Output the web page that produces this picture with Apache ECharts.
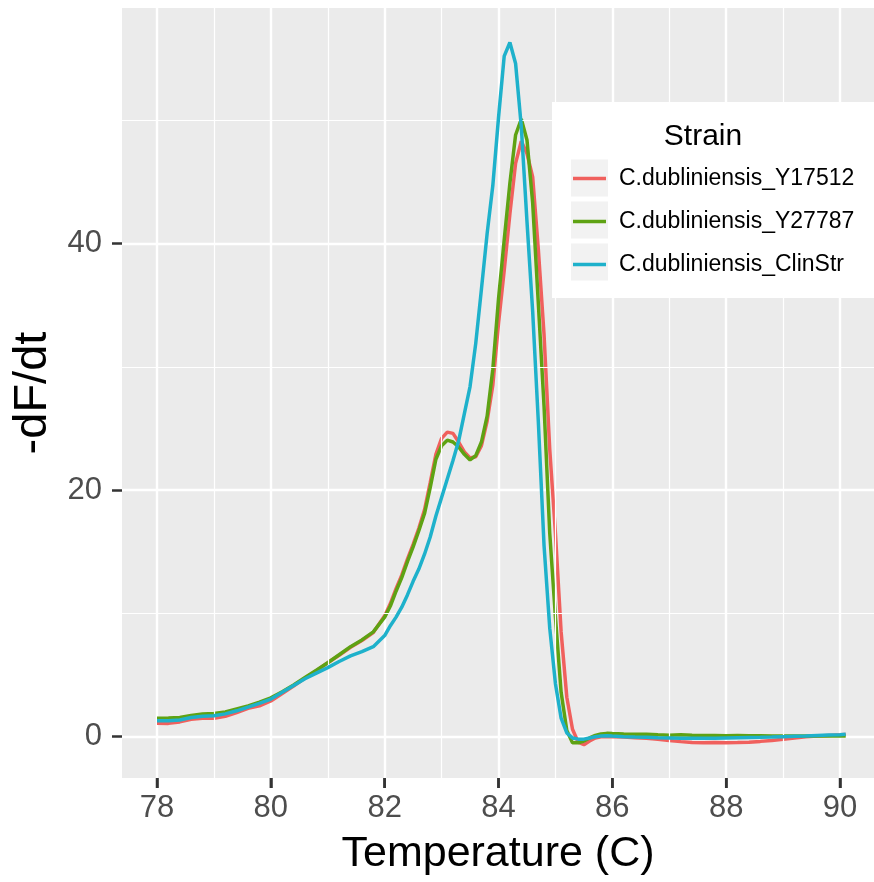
<!DOCTYPE html>
<html>
<head>
<meta charset="utf-8">
<script src="https://cdn.jsdelivr.net/npm/echarts@6/dist/echarts.min.js"></script>
<style>html,body{margin:0;padding:0;background:#fff;}#chart{width:874px;height:882px;}</style>
</head>
<body>
<div id="chart"></div>
<script>
// ---- data ----
const temps = [78.0,78.2,78.4,78.6,78.8,79.0,79.2,79.4,79.6,79.8,80.0,80.2,80.4,80.6,80.8,81.0,81.2,81.4,81.6,81.8,
  82.0,82.1,82.2,82.3,82.4,82.5,82.6,82.7,82.8,82.9,83.0,83.1,83.2,83.3,83.4,83.5,83.6,83.7,83.8,83.9,
  84.0,84.1,84.2,84.3,84.4,84.5,84.6,84.7,84.8,84.9,85.0,85.1,85.2,85.3,85.4,85.5,85.6,85.7,85.8,85.9,86.0,
  86.2,86.4,86.6,86.8,87.0,87.2,87.4,87.6,87.8,88.0,88.2,88.4,88.6,88.8,89.0,89.2,89.4,89.6,89.8,90.0,90.1];

const strains = ['C.dubliniensis_Y17512','C.dubliniensis_Y27787','C.dubliniensis_ClinStr'];

const y17512 = [1.1,1.08,1.2,1.42,1.5,1.5,1.65,1.95,2.3,2.5,2.9,3.5,4.1,4.75,5.35,6.0,6.6,7.25,7.8,8.45,
  9.8,10.8,12.0,13.1,14.4,15.6,16.9,18.4,20.6,22.9,24.2,24.7,24.6,23.9,23.1,22.6,22.7,23.6,25.6,28.5,
  33.5,37.8,42.4,46.5,48.3,47.3,45.4,39.5,32.6,23.3,16.5,8.5,3.2,0.6,-0.45,-0.65,-0.35,-0.1,0.0,0.02,0.0,
  -0.03,-0.08,-0.12,-0.2,-0.3,-0.4,-0.48,-0.5,-0.48,-0.5,-0.48,-0.45,-0.38,-0.3,-0.2,-0.1,0.0,0.05,0.1,0.15,0.18];

const y27787 = [1.5,1.52,1.55,1.72,1.85,1.88,2.0,2.25,2.5,2.8,3.15,3.65,4.2,4.8,5.4,6.0,6.65,7.3,7.85,8.5,
  9.7,10.6,11.8,12.9,14.2,15.4,16.7,18.1,20.2,22.5,23.6,24.05,23.9,23.5,22.9,22.45,22.8,23.9,26.0,29.8,
  35.5,40.3,44.9,48.8,50.1,48.4,43.3,35.1,26.8,16.5,9.7,3.6,0.5,-0.5,-0.5,-0.35,-0.1,0.1,0.22,0.27,0.25,
  0.22,0.2,0.2,0.15,0.12,0.15,0.12,0.1,0.1,0.08,0.1,0.08,0.08,0.05,0.05,0.05,0.05,0.05,0.05,0.05,0.05];

const clinStr = [1.3,1.3,1.35,1.55,1.65,1.7,1.85,2.1,2.4,2.7,3.05,3.6,4.15,4.7,5.15,5.6,6.1,6.55,6.9,7.3,
  8.2,9.0,9.7,10.5,11.5,12.6,13.6,14.8,16.2,17.9,19.4,20.9,22.4,24.0,26.2,28.4,31.9,36.3,40.8,44.7,
  50.2,55.2,56.3,54.6,49.5,41.8,34.5,25.5,15.5,8.8,4.3,1.5,0.3,-0.1,-0.2,-0.2,-0.1,0.0,0.05,0.08,0.05,
  0.0,-0.03,-0.05,-0.08,-0.1,-0.12,-0.13,-0.13,-0.12,-0.1,-0.08,-0.06,-0.05,-0.03,0.0,0.03,0.06,0.1,0.13,0.16,0.19];

const xMajor = [78,80,82,84,86,88,90];
const xMinor = [79,81,83,85,87,89];
const yMajor = [0,20,40];
const yMinor = [10,30,50];

// ---- chart ----
const FONT = 'Liberation Sans, Arial, Helvetica, sans-serif';
const colors = ['#F0605D','#5EA213','#1EB1CB'];
const seriesValues = [y17512, y27787, clinStr];
const X_MIN = 77.385, X_MAX = 90.597, Y_MIN = -3.35, Y_MAX = 59.1;

const chart = echarts.init(document.getElementById('chart'), null, {renderer:'canvas'});

const majorLine = {show:true, lineStyle:{color:'#ffffff', width:2.4}};
const tickStyle = {show:true, length:10, lineStyle:{color:'#333333', width:2.5}};

const dataSeries = strains.map((name, i) => ({
  name:name, type:'line', xAxisIndex:0, yAxisIndex:0,
  showSymbol:false, symbol:'none', smooth:false,
  lineStyle:{color:colors[i], width:3.5}, itemStyle:{color:colors[i]},
  z:3+i,
  data: temps.map((t, k) => [t, seriesValues[i][k]])
}));

// minor grid lines (white, thinner), placed through the axes' scales
const minorGridSeries = {
  name:'minor-grid', type:'line', xAxisIndex:0, yAxisIndex:0, z:1, silent:true,
  showSymbol:false, symbol:'none', lineStyle:{opacity:0}, itemStyle:{opacity:0},
  data:[[X_MIN, Y_MIN]],
  markLine:{
    silent:true, animation:false, symbol:['none','none'], label:{show:false},
    emphasis:{disabled:true},
    lineStyle:{color:'#ffffff', width:1.2, type:'solid'},
    data: xMinor.map(v => ({xAxis:v})).concat(yMinor.map(v => ({yAxis:v})))
  }
};

// x tick marks under the panel, positioned through the x scale
const xTickSeries = {
  name:'x-ticks', type:'custom', xAxisIndex:0, yAxisIndex:0, silent:true, clip:false, z:50,
  data: xMajor.map(v => [v, Y_MIN]),
  renderItem: function (params, api) {
    const p = api.coord([api.value(0), api.value(1)]);
    return {type:'line', shape:{x1:p[0], y1:p[1], x2:p[0], y2:p[1] + 10},
            style:{stroke:'#333333', lineWidth:2.5}};
  }
};

chart.setOption({
  animation:false,
  backgroundColor:'#ffffff',
  grid:{left:122, top:8, right:0, bottom:104, show:true, backgroundColor:'#EBEBEB', borderWidth:0, containLabel:false},
  xAxis:{type:'value', min:X_MIN, max:X_MAX, position:'bottom',
     name:'Temperature (C)', nameLocation:'middle', nameGap:55,
     nameTextStyle:{fontSize:43, color:'#000', fontFamily:FONT},
     axisLine:{show:false, onZero:false},
     axisTick:Object.assign({customValues:xMajor}, tickStyle),
     axisLabel:{show:true, customValues:xMajor, margin:15, fontSize:31, color:'#4D4D4D', fontFamily:FONT},
     splitLine:majorLine},
  yAxis:{type:'value', min:Y_MIN, max:Y_MAX, position:'left',
     name:'-dF/dt', nameLocation:'middle', nameGap:62, nameRotate:90,
     nameTextStyle:{fontSize:47, color:'#000', fontFamily:FONT},
     axisLine:{show:false, onZero:false},
     axisTick:Object.assign({customValues:yMajor}, tickStyle),
     axisLabel:{show:true, customValues:yMajor, margin:20, fontSize:31, color:'#4D4D4D', fontFamily:FONT},
     splitLine:majorLine},
  legend:{
    orient:'vertical', left:573, top:167, itemWidth:33, itemHeight:3.5, itemGap:20, icon:'rect',
    padding:0, z:20,
    textStyle:{fontSize:23, lineHeight:22, color:'#000', fontFamily:FONT, padding:[0,0,0,8]},
    data:strains
  },
  graphic:[
    {type:'rect', z:15, shape:{x:552, y:102, width:340, height:196}, style:{fill:'#ffffff'}},
    {type:'rect', z:16, shape:{x:571, y:159.5, width:37, height:37}, style:{fill:'#F2F2F2'}},
    {type:'rect', z:16, shape:{x:571, y:201.5, width:37, height:37}, style:{fill:'#F2F2F2'}},
    {type:'rect', z:16, shape:{x:571, y:243.5, width:37, height:37}, style:{fill:'#F2F2F2'}},
    {type:'text', z:20, x:703, y:137, style:{text:'Strain', fontSize:30, fontFamily:FONT, fill:'#000', textAlign:'center', textVerticalAlign:'middle'}}
  ],
  series: [minorGridSeries].concat(dataSeries).concat([xTickSeries])
});
</script>
</body>
</html>
